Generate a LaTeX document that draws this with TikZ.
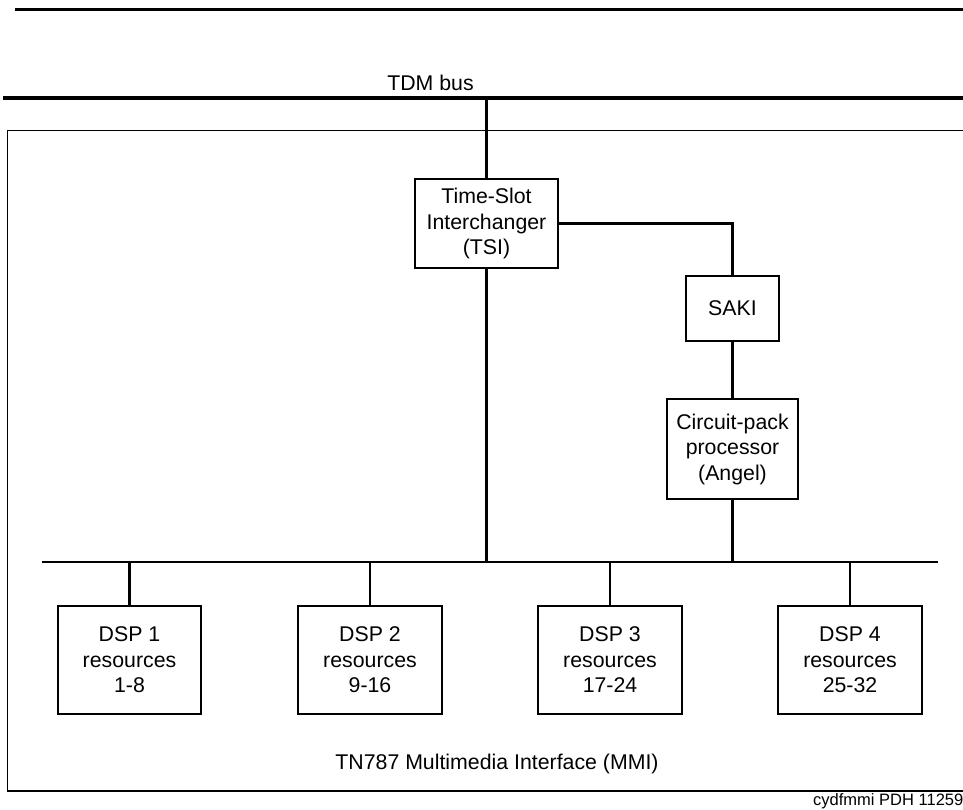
\documentclass[tikz,border=0pt]{standalone}
\usepackage{fontspec}
\setmainfont{Liberation Sans}
\begin{document}
\begin{tikzpicture}[x=1pt,y=-1pt,
  box/.style={draw,line width=1.1pt,align=center,inner sep=0pt,
    font=\fontsize{21.3}{25.5}\selectfont},
  wire/.style={line width=2.8pt},
  busline/.style={line width=3.8pt},
  lbl/.style={inner sep=0pt,font=\fontsize{21.3}{25.5}\selectfont}]
\useasboundingbox (0,0) rectangle (963,810);
% top rule
\draw[line width=3pt] (15,9.5) -- (975,9.5);
% TDM bus
\coordinate (tdmL) at (3,98);
\coordinate (tdmR) at (975,98);
\draw[busline] (tdmL) -- (tdmR);
\node[lbl,anchor=base] (tdmlbl) at (430.5,91) {TDM bus};
% outer board outline (open on the right)
\draw[line width=1.3pt] (975,130.5) -- (7.5,130.5) -- (7.5,791) -- (975,791);
% boxes
\node[box,minimum width=143pt,minimum height=89pt] (tsi) at (486.5,223.5)
  {Time-Slot\\Interchanger\\(TSI)};
\node[box,minimum width=93pt,minimum height=65pt] (saki) at (732.5,308.5) {SAKI};
\node[box,minimum width=131pt,minimum height=100pt] (angel) at (732.5,449)
  {Circuit-pack\\processor\\(Angel)};
\node[box,minimum width=143pt,minimum height=108pt] (dsp1) at (129.5,660)
  {DSP 1\\resources\\1-8};
\node[box,minimum width=144pt,minimum height=108pt] (dsp2) at (370,660)
  {DSP 2\\resources\\9-16};
\node[box,minimum width=144pt,minimum height=108pt] (dsp3) at (610,660)
  {DSP 3\\resources\\17-24};
\node[box,minimum width=144pt,minimum height=108pt] (dsp4) at (850,660)
  {DSP 4\\resources\\25-32};
% internal bus
\coordinate (busL) at (42,562);
\coordinate (busR) at (938,562);
\draw[wire] (busL) -- (busR);
% connectors
\draw[wire] (tsi.north |- tdmL) -- (tsi.north);
\draw[wire] (tsi.east) -| (saki.north);
\draw[wire] (saki.south) -- (angel.north);
\draw[wire] (angel.south) -- (angel.south |- busL);
\draw[wire] (tsi.south) -- (tsi.south |- busL);
\foreach \d in {dsp1,dsp2,dsp3,dsp4}
  \draw[wire] (\d.north |- busL) -- (\d.north);
% labels
\node[lbl,anchor=base] (mmi) at (497,769) {TN787 Multimedia Interface (MMI)};
\node[inner sep=0pt,anchor=base west,font=\fontsize{16.5}{18}\selectfont] (code)
  at (813,805) {cydfmmi PDH 112596};
\end{tikzpicture}
\end{document}
